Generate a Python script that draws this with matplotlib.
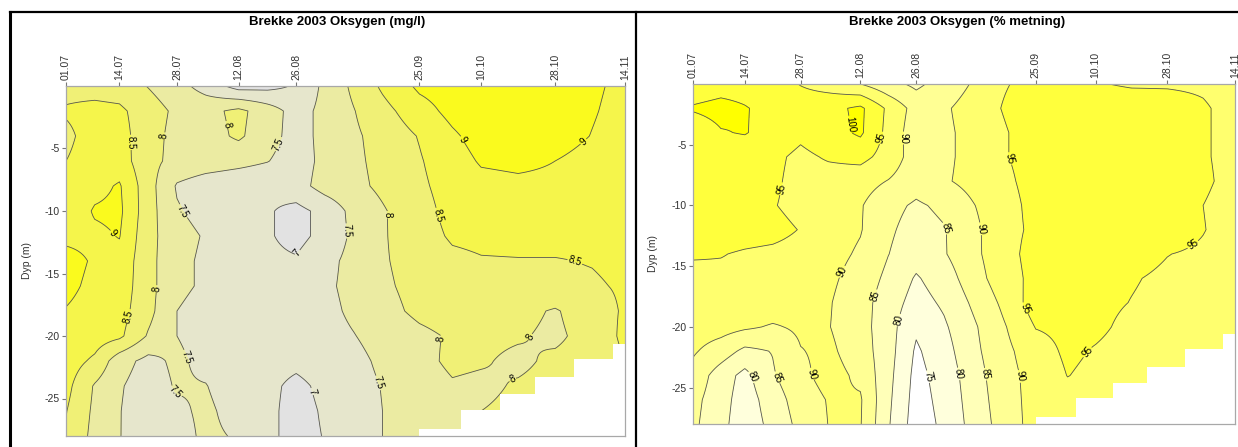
import numpy as np
import matplotlib
matplotlib.use('Agg')
import matplotlib.pyplot as plt
from matplotlib.lines import Line2D
from datetime import date

plt.rcParams['font.family'] = ['Liberation Sans', 'DejaVu Sans']
plt.rcParams['axes.unicode_minus'] = False

# ---------------- data ----------------
date_labels = ['01.07', '14.07', '28.07', '12.08', '26.08', '25.09', '10.10', '28.10', '14.11']
grid_days = [0, 7, 13, 20, 27, 34, 42, 49, 56, 63, 70, 77, 86, 94, 101, 110, 119, 128, 136]
grid_depths = [0, 2, 4, 6, 8, 10, 12, 14, 16, 18, 20, 22, 24, 26, 28]

# bottom of the lake section (blanked below)
bottom_days = [0, 86, 96, 105.5, 114, 123.5, 133, 136]
bottom_depth = [28, 27.4, 25.9, 24.6, 23.3, 21.8, 20.6, 20.6]

# Oksygen (mg/l), one list per depth
mg_d00 = [8.35, 8.30, 8.25, 7.98, 7.68, 7.30, 6.80, 6.85, 7.05, 7.62, 8.10, 8.58, 9.10, 9.25, 9.30, 9.30, 9.25, 9.10, 8.85]
mg_d02 = [8.55, 8.65, 8.60, 8.23, 7.90, 7.85, 8.12, 7.75, 7.30, 7.64, 7.98, 8.34, 8.79, 9.15, 9.35, 9.40, 9.35, 9.05, 8.80]
mg_d04 = [8.40, 8.70, 8.70, 8.19, 7.85, 7.80, 8.08, 7.70, 7.30, 7.64, 7.92, 8.18, 8.53, 8.92, 9.20, 9.30, 9.25, 8.98, 8.75]
mg_d06 = [8.50, 8.70, 8.75, 8.15, 7.85, 7.75, 7.65, 7.52, 7.25, 7.64, 7.90, 8.14, 8.46, 8.78, 9.05, 9.10, 9.00, 8.80, 8.70]
mg_d08 = [8.60, 8.85, 9.05, 8.20, 7.45, 7.25, 7.15, 7.10, 7.30, 7.70, 7.87, 8.10, 8.41, 8.70, 8.85, 8.90, 8.90, 8.80, 8.70]
mg_d10 = [8.65, 9.05, 9.10, 8.20, 7.55, 7.30, 7.20, 7.05, 6.85, 7.15, 7.65, 7.95, 8.33, 8.65, 8.80, 8.85, 8.85, 8.80, 8.70]
mg_d12 = [8.90, 8.90, 9.02, 8.15, 7.70, 7.45, 7.25, 7.05, 6.85, 7.15, 7.60, 7.95, 8.30, 8.56, 8.60, 8.62, 8.62, 8.60, 8.65]
mg_d14 = [9.15, 8.95, 8.85, 8.15, 7.65, 7.40, 7.20, 7.10, 7.05, 7.35, 7.65, 7.95, 8.20, 8.40, 8.47, 8.48, 8.48, 8.52, 8.60]
mg_d16 = [9.10, 8.90, 8.80, 8.15, 7.65, 7.40, 7.25, 7.15, 7.15, 7.40, 7.65, 7.92, 8.15, 8.30, 8.35, 8.40, 8.40, 8.45, 8.55]
mg_d18 = [8.98, 8.85, 8.70, 8.15, 7.50, 7.25, 7.20, 7.15, 7.15, 7.35, 7.60, 7.85, 8.10, 8.20, 8.20, 8.15, 7.95, 8.30, 8.55]
mg_d20 = [8.90, 8.75, 8.60, 7.95, 7.50, 7.30, 7.20, 7.15, 7.15, 7.30, 7.48, 7.70, 7.90, 8.05, 8.10, 8.05, 7.90, 8.20, 8.60]
mg_d22 = [8.75, 8.40, 7.70, 7.35, 7.60, 7.35, 7.20, 7.15, 7.10, 7.20, 7.35, 7.60, 7.85, 8.10, 8.05, 7.90, 8.10, 8.20, 8.50]
mg_d24 = [8.65, 7.95, 7.55, 7.25, 7.55, 7.52, 7.20, 7.10, 6.90, 7.10, 7.30, 7.52, 7.75, 7.95, 7.90, 8.05, 8.15, 8.20, 8.30]
mg_d26 = [8.52, 7.90, 7.52, 7.20, 7.40, 7.60, 7.30, 7.10, 6.85, 7.05, 7.25, 7.50, 7.70, 7.90, 8.00, 8.10, 8.20, 8.20, 8.30]
mg_d28 = [8.45, 7.85, 7.52, 7.15, 7.30, 7.60, 7.45, 7.10, 6.85, 7.02, 7.25, 7.50, 7.70, 7.85, 7.95, 8.05, 8.15, 8.20, 8.30]

# Oksygen (% metning), one list per depth
pct_d00 = [97.0, 98.0, 98.0, 97.0, 94.8, 93.0, 90.0, 86.5, 84.0, 87.0, 90.3, 94.6, 96.0, 96.0, 95.3, 94.5, 94.5, 94.3, 93.0]
pct_d02 = [100.5, 101.5, 100.3, 98.5, 97.5, 98.5, 101.0, 94.0, 88.0, 89.3, 92.0, 94.95, 97.0, 97.5, 97.5, 97.5, 97.0, 95.5, 93.5]
pct_d04 = [97.0, 99.7, 100.3, 98.0, 96.0, 98.0, 100.8, 93.5, 87.0, 89.0, 91.5, 94.5, 96.5, 97.2, 97.5, 97.5, 97.0, 95.5, 93.5]
pct_d06 = [97.5, 97.5, 97.0, 96.0, 94.0, 95.5, 96.5, 93.0, 87.5, 89.0, 91.5, 94.5, 96.5, 97.5, 97.8, 98.0, 97.5, 95.5, 93.5]
pct_d08 = [97.5, 97.5, 97.0, 95.8, 93.5, 93.0, 92.0, 89.8, 87.0, 89.4, 91.5, 93.8, 96.5, 97.5, 98.0, 98.0, 97.5, 95.8, 93.5]
pct_d10 = [97.5, 97.3, 96.8, 95.3, 93.5, 92.2, 90.4, 86.5, 84.3, 86.0, 89.6, 93.0, 96.3, 97.5, 98.0, 98.0, 97.5, 95.0, 93.0]
pct_d12 = [97.5, 97.3, 97.0, 96.5, 94.8, 92.5, 90.3, 85.8, 83.0, 84.7, 88.5, 93.0, 96.0, 97.3, 97.8, 97.8, 97.3, 95.2, 93.0]
pct_d14 = [95.5, 95.2, 94.5, 94.0, 93.3, 91.8, 89.3, 85.1, 82.0, 84.6, 88.5, 92.8, 96.8, 97.0, 97.0, 96.5, 95.1, 94.3, 93.0]
pct_d16 = [93.5, 94.0, 94.0, 93.5, 92.5, 91.0, 88.0, 83.8, 79.5, 82.5, 87.5, 92.2, 96.5, 96.5, 96.0, 95.3, 94.3, 93.8, 93.0]
pct_d18 = [93.0, 93.5, 93.5, 93.0, 92.0, 90.4, 87.0, 82.5, 78.0, 80.8, 85.6, 90.4, 97.5, 96.3, 96.0, 94.9, 94.0, 93.5, 93.0]
pct_d20 = [92.5, 92.0, 90.8, 89.5, 90.8, 90.2, 87.0, 82.0, 75.8, 79.3, 84.0, 88.8, 95.2, 96.0, 95.8, 94.0, 93.5, 93.2, 93.0]
pct_d22 = [90.6, 87.5, 83.8, 85.2, 89.8, 91.0, 87.5, 82.0, 74.3, 78.0, 83.5, 88.0, 93.0, 95.8, 94.7, 93.5, 93.2, 93.0, 93.0]
pct_d24 = [88.3, 82.5, 78.5, 84.5, 88.8, 91.8, 89.0, 81.5, 73.5, 77.0, 82.5, 87.5, 92.0, 95.1, 94.0, 93.5, 93.2, 93.0, 93.0]
pct_d26 = [86.5, 82.0, 77.5, 82.5, 87.5, 90.3, 90.5, 81.0, 73.0, 76.5, 82.0, 87.0, 92.0, 93.5, 93.5, 93.2, 93.0, 93.0, 93.0]
pct_d28 = [86.0, 81.5, 77.0, 81.5, 86.5, 90.1, 90.3, 80.5, 72.5, 76.0, 81.5, 86.5, 92.0, 93.5, 93.5, 93.2, 93.0, 93.0, 93.0]

mg_levels = [7, 7.5, 8, 8.5, 9]
pct_levels = [75, 80, 85, 90, 95, 100]

# contour label anchor points (day, -depth)
mg_label_pos = [(16.8, -4.5), (21.7, -3.9), (40.5, -3.0), (52.8, -4.8), (10.7, -12.0), (28.5, -10.0),
                (56.5, -13.4), (21.2, -16.2), (15.8, -18.5), (29.2, -21.7), (27.7, -24.3), (58.2, -24.6),
                (95.9, -4.4), (125.8, -4.4), (77.6, -10.3), (89.8, -10.4), (68.3, -11.6), (124.3, -13.6),
                (91.0, -20.2), (114.5, -20.3), (75.6, -23.8), (109.2, -23.9)]
pct_label_pos = [(40.5, -3.3), (47.3, -4.45), (52.3, -4.45), (21.7, -8.6), (63.2, -11.9), (38.3, -15.6),
                 (46.4, -17.5), (51.0, -19.4), (15.0, -24.1), (20.9, -24.2), (29.7, -23.9), (59.0, -24.1),
                 (72.6, -11.9), (78.9, -6.2), (82.6, -18.6), (66.3, -23.9), (73.4, -23.9), (81.0, -24.1),
                 (99.0, -22.1), (125.8, -13.4)]

mg_grid = np.array([mg_d00, mg_d02, mg_d04, mg_d06, mg_d08, mg_d10, mg_d12, mg_d14,
                    mg_d16, mg_d18, mg_d20, mg_d22, mg_d24, mg_d26, mg_d28])
pct_grid = np.array([pct_d00, pct_d02, pct_d04, pct_d06, pct_d08, pct_d10, pct_d12, pct_d14,
                     pct_d16, pct_d18, pct_d20, pct_d22, pct_d24, pct_d26, pct_d28])

start = date(2003, 7, 1)
date_days = [(date(2003, int(s[3:]), int(s[:2])) - start).days for s in date_labels]

# ---------------- helpers ----------------
xf = np.linspace(0, 136, 273)
yf = np.linspace(0, 28, 141)


def upsample(z):
    tmp = np.array([np.interp(xf, grid_days, row) for row in z])
    return np.array([np.interp(yf, grid_depths, tmp[:, j]) for j in range(tmp.shape[1])]).T


TXT = '#333333'
SPINE = '#a8a8a8'


def panel(ax, z, levels, fill_colors, label_pos):
    zf = upsample(z)
    lo = min(z.min(), levels[0]) - 1
    hi = max(z.max(), levels[-1]) + 1
    ax.contourf(xf, -yf, zf, levels=[lo] + levels + [hi], colors=fill_colors, zorder=1)
    cs = ax.contour(xf, -yf, zf, levels=levels, colors='#555555', linewidths=0.6, zorder=2)
    ax.fill_between(bottom_days, [-d for d in bottom_depth], -29, step='post',
                    color='white', lw=0, zorder=2.3)
    ax.clabel(cs, levels, manual=label_pos, inline=True, inline_spacing=1,
              fmt=lambda v: f'{v:g}', fontsize=7, colors='black')
    ax.set_xlim(0, 136)
    ax.set_ylim(-28, 0)
    ax.xaxis.tick_top()
    ax.set_xticks(date_days)
    ax.set_xticklabels(date_labels, rotation=90)
    ax.set_yticks([-25, -20, -15, -10, -5])
    ax.tick_params(axis='x', which='both', direction='out', length=3, pad=1,
                   labelsize=7.5, color='#777777', labelcolor=TXT, top=True, bottom=False)
    ax.tick_params(axis='y', direction='out', length=3, pad=1.5,
                   labelsize=7.5, color='#777777', labelcolor=TXT)
    for s in ax.spines.values():
        s.set_color(SPINE)
        s.set_linewidth(0.9)
    ax.set_ylabel('Dyp (m)', fontsize=7.5, color=TXT)


W, H = 1238, 447
fig = plt.figure(figsize=(W / 100, H / 100), dpi=100)

ax1 = fig.add_axes([66 / W, 1 - 436 / H, 559 / W, 350 / H])
ax2 = fig.add_axes([693 / W, 1 - 424 / H, 542 / W, 340 / H])

mg_colors = ['#e2e2e2', '#e6e6cc', '#ebeba2', '#f0f076', '#f5f54b', '#fafa1e']
pct_colors = ['#ffffff', '#ffffdc', '#ffffb8', '#ffff94', '#ffff6e', '#ffff3c', '#ffff00']

panel(ax1, mg_grid, mg_levels, mg_colors, mg_label_pos)
panel(ax2, pct_grid, pct_levels, pct_colors, pct_label_pos)
ax1.yaxis.set_label_coords(-0.061, 0.5)
ax2.yaxis.set_label_coords(-0.065, 0.5)

fig.text(337 / W, 1 - 22 / H, 'Brekke 2003 Oksygen (mg/l)', ha='center', va='center',
         fontsize=9.5, fontweight='bold')
fig.text(957 / W, 1 - 22 / H, 'Brekke 2003 Oksygen (% metning)', ha='center', va='center',
         fontsize=9.5, fontweight='bold')

# panel frames
fig.add_artist(Line2D([10 / W, 10 / W], [0, 1 - 12 / H], color='black', lw=2.2,
                      transform=fig.transFigure))
fig.add_artist(Line2D([636 / W, 636 / W], [0, 1 - 12 / H], color='black', lw=1.6,
                      transform=fig.transFigure))
fig.add_artist(Line2D([10 / W, 1.0], [1 - 12 / H, 1 - 12 / H], color='black', lw=1.6,
                      transform=fig.transFigure))

fig.savefig('out.png', dpi=100)
